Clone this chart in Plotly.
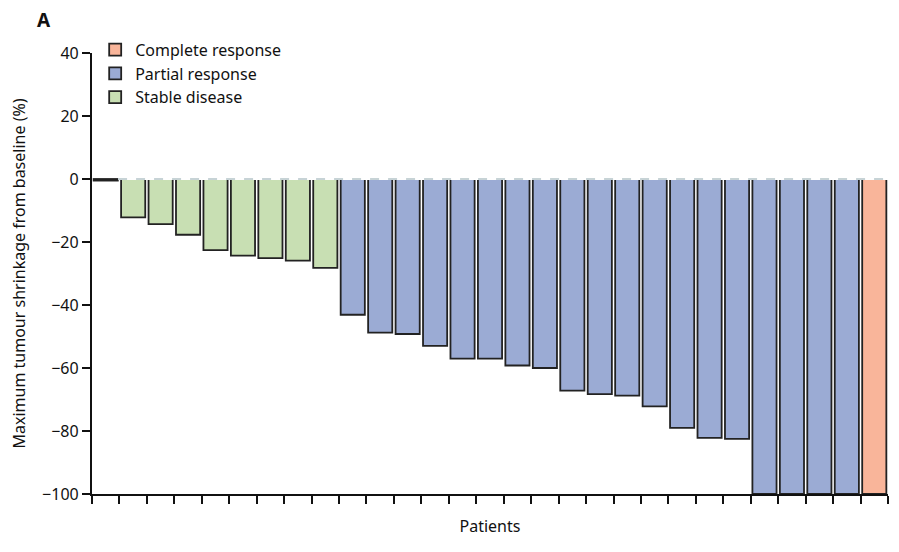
import plotly.graph_objects as go

patients = list(range(29))
values = [-0.5, -12.2, -14.3, -17.7, -22.6, -24.3, -25.1, -25.9, -28.2,
          -43.1, -48.8, -49.2, -53.0, -57.0, -57.0, -59.2, -60.0, -67.2, -68.3,
          -68.8, -72.2, -79.0, -82.2, -82.5, -100, -100, -100, -100, -100]
response = (["Stable disease"] * 9 + ["Partial response"] * 19 + ["Complete response"])
categories = ["Complete response", "Partial response", "Stable disease"]
colors = {"Complete response": "#F9B59A", "Partial response": "#9BABD4", "Stable disease": "#C8DFB3"}
y_ticks = [40, 20, 0, -20, -40, -60, -80, -100]

FONT = "Noto Sans"
FS = 16
fig = go.Figure()
for cat in categories:
    xs = [p for p, r in zip(patients, response) if r == cat]
    ys = [v for v, r in zip(values, response) if r == cat]
    fig.add_trace(go.Bar(
        x=xs, y=ys, name=cat, width=0.88,
        marker=dict(color=colors[cat], line=dict(color="#222222", width=1.8)),
    ))

fig.add_shape(type="line", xref="x", yref="y", x0=0.45, x1=28.5, y0=0, y1=0,
              line=dict(color="white", width=2.2), layer="above")
fig.add_shape(type="line", xref="x", yref="y", x0=0.45, x1=28.5, y0=0, y1=0,
              line=dict(color="#8fa7ad", width=1.2, dash="dash"), layer="above")

fig.update_layout(
    width=891, height=544,
    margin=dict(l=84, r=11, t=45, b=58, autoexpand=False),
    paper_bgcolor="white", plot_bgcolor="white",
    barmode="overlay",
    showlegend=True,
    legend=dict(x=0.004, y=1.046, xanchor="left", yanchor="top",
                font=dict(family=FONT, size=FS, color="#111"),
                traceorder="normal", itemwidth=30, tracegroupgap=0,
                bgcolor="rgba(0,0,0,0)"),
    font=dict(family=FONT, size=FS, color="#111"),
    xaxis=dict(range=[-0.5, 28.5], showline=True, linecolor="#111", linewidth=1.5,
               ticks="outside", ticklen=8, tickwidth=1.5, tickcolor="#111",
               tickvals=[i - 0.5 for i in range(30)], ticktext=[""] * 30,
               showgrid=False, zeroline=False, automargin=False,
               title=dict(text="Patients", font=dict(family=FONT, size=FS))),
    yaxis=dict(range=[-100, 40], showline=True, linecolor="#111", linewidth=2.2,
               ticks="outside", ticklen=8, tickwidth=1.8, tickcolor="#111",
               tickvals=y_ticks, showgrid=False, zeroline=False, automargin=False,
               tickfont=dict(family=FONT, size=FS),
               title=dict(text="Maximum tumour shrinkage from baseline (%)",
                          font=dict(family=FONT, size=FS))),
    annotations=[dict(text="<b>A</b>", xref="paper", yref="paper", x=-0.06, y=1.075,
                      xanchor="center", yanchor="middle", showarrow=False,
                      font=dict(family=FONT, size=19, color="#111"))],
)

fig.write_html("out.html")
